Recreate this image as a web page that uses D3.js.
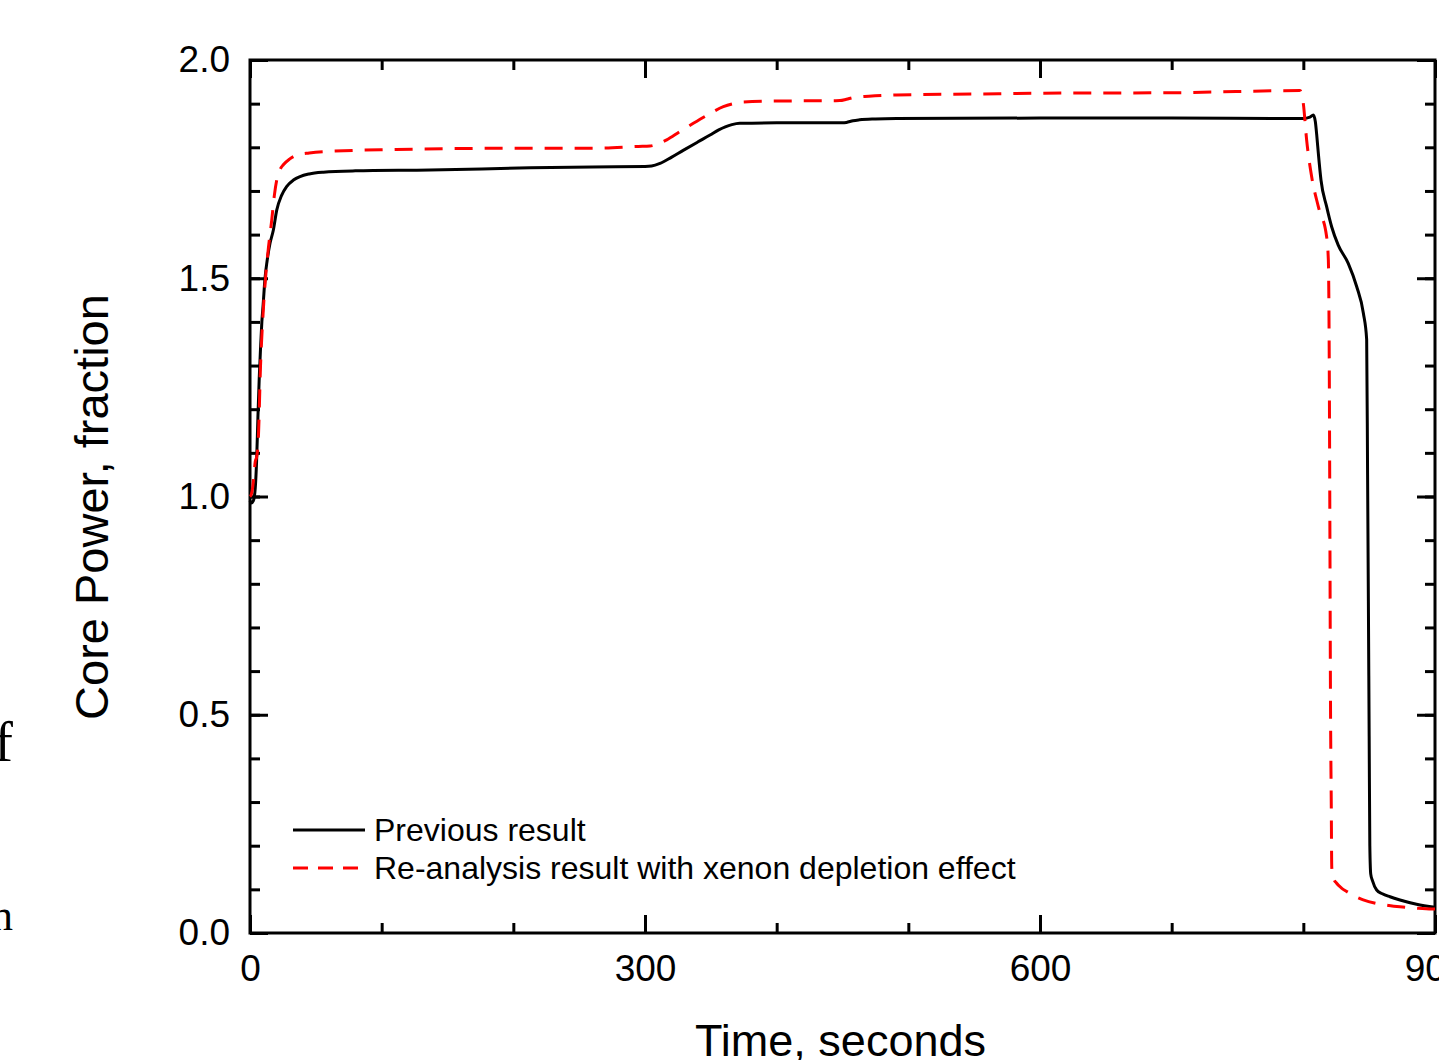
<!DOCTYPE html>
<html>
<head>
<meta charset="utf-8">
<script src="https://cdn.jsdelivr.net/npm/d3@7"></script>
<style>
    body { margin: 0; background: #ffffff; overflow: hidden; }
    svg { display: block; }
</style>
</head>
<body>
<div id="chart"></div>
<script>
//-------------------------------------------------------
// data
//-------------------------------------------------------
const xTicks = [0, 300, 600, 900];
const yTicks = [0.0, 0.5, 1.0, 1.5, 2.0];

// previous result (solid black)
const prevTime = [0, 1, 2.5, 4, 5, 6, 7, 8, 9, 10, 11.4, 13, 15.2, 17.7, 20.3, 24, 27.8, 33, 38, 45, 55.7, 80, 136.7, 212.7, 260, 300,
    305, 311.4, 320, 329, 340, 349.4, 356, 361, 366, 372, 400, 450, 453, 458, 463, 475, 491, 600, 700, 790, 800, 805, 807.6,
    809.1, 810.3, 811.4, 813.4, 817.7, 821.5, 826.5, 834.1, 840.5, 845.6, 848.1, 848.8, 849.4, 850.0, 850.5, 851.2, 852.5,
    855.7, 860, 865.8, 873.4, 886, 900];
const prevPower = [0.99, 0.985, 0.99, 1.02, 1.08, 1.18, 1.27, 1.34, 1.40, 1.44, 1.50, 1.54, 1.58, 1.61, 1.656, 1.69, 1.71, 1.725, 1.733, 1.739, 1.743, 1.746, 1.748, 1.753, 1.755, 1.756,
    1.757, 1.763, 1.777, 1.793, 1.812, 1.828, 1.84, 1.847, 1.852, 1.855, 1.856, 1.856, 1.857, 1.861, 1.863, 1.865, 1.866, 1.867, 1.867, 1.866, 1.866, 1.869, 1.874,
    1.859, 1.824, 1.786, 1.725, 1.664, 1.618, 1.576, 1.534, 1.481, 1.42, 1.36, 1.05, 0.76, 0.45, 0.2, 0.135, 0.12,
    0.0985, 0.09, 0.083, 0.0756, 0.066, 0.059];

// re-analysis with xenon depletion (red dashed)
const reTime = [0, 1, 2, 3, 4, 5, 6.3, 8, 10.1, 12.2, 14, 16.5, 18.5, 20.3, 23, 25.3, 30, 35.4, 45, 55.7, 111, 207.6, 265.8, 295,
    303.8, 310, 316.5, 326, 336.7, 348, 359.5, 367, 374.7, 400, 448, 453, 458.2, 470, 491, 550, 600, 700, 797.5, 800, 802.5,
    806.3, 811.4, 817.7, 819, 819.7, 820.2, 820.6, 821.2, 821.6, 823, 825.3, 829, 833, 840, 845.5, 855, 865, 873.4, 885, 897.5, 900];
const rePower = [1.0, 1.005, 1.02, 1.05, 1.08, 1.09, 1.13, 1.30, 1.427, 1.515, 1.57, 1.633, 1.69, 1.725, 1.75, 1.76, 1.773, 1.782, 1.787, 1.79, 1.795, 1.798, 1.798, 1.802,
    1.803, 1.808, 1.817, 1.835, 1.855, 1.875, 1.893, 1.9, 1.904, 1.906, 1.907, 1.91, 1.914, 1.917, 1.92, 1.922, 1.924, 1.925, 1.93, 1.9, 1.817,
    1.733, 1.664, 1.595, 1.542, 1.3, 0.9, 0.55, 0.3, 0.15, 0.125, 0.114, 0.103, 0.095, 0.083, 0.076, 0.068, 0.063, 0.06, 0.057, 0.055, 0.055];

const seriesNames = ["Previous result", "Re-analysis result with xenon depletion effect"];

//-------------------------------------------------------
// properties
//-------------------------------------------------------
let properties = {
    width: 1439,
    height: 1060,
    plot: { left: 250, right: 1435, top: 60, bottom: 933 },
    tick: { major: 18, minor: 10, width: 3 },
    font: "'Liberation Sans', Arial, Helvetica, sans-serif",
    color: { black: "#000000", red: "#ff0000", white: "#ffffff" }
};

const svg = d3.select("#chart")
    .append("svg")
    .attr("width", properties.width)
    .attr("height", properties.height);

const x = d3.scaleLinear()
    .domain([0, 900])
    .range([properties.plot.left, properties.plot.right]);

const y = d3.scaleLinear()
    .domain([0, 2])
    .range([properties.plot.bottom, properties.plot.top]);

const xMinor = d3.range(0, 901, 100);
const yMinor = d3.range(0, 21, 1).map(d => d / 10);

// axes: ticks pointing inward on all four sides
function drawAxis(axisFn, scale, values, size, translate, labels, pad) {
    const g = svg.append("g")
        .attr("transform", translate)
        .call(axisFn(scale)
            .tickValues(values)
            .tickSizeInner(-size)
            .tickSizeOuter(0)
            .tickPadding(pad || 0)
            .tickFormat(labels ? (d => d3.format(labels)(d)) : ""));
    g.select(".domain").remove();
    g.selectAll(".tick line")
        .attr("stroke", properties.color.black)
        .attr("stroke-width", properties.tick.width);
    g.selectAll(".tick text")
        .attr("font-family", properties.font)
        .attr("font-size", 37)
        .attr("fill", properties.color.black);
    return g;
}

const P = properties.plot;
// minor ticks
drawAxis(d3.axisBottom, x, xMinor, properties.tick.minor, `translate(0,${P.bottom})`, null);
drawAxis(d3.axisTop, x, xMinor, properties.tick.minor, `translate(0,${P.top})`, null);
drawAxis(d3.axisLeft, y, yMinor, properties.tick.minor, `translate(${P.left},0)`, null);
drawAxis(d3.axisRight, y, yMinor, properties.tick.minor, `translate(${P.right},0)`, null);
// major ticks
drawAxis(d3.axisBottom, x, xTicks, properties.tick.major, `translate(0,${P.bottom})`, "d", 22);
drawAxis(d3.axisTop, x, xTicks, properties.tick.major, `translate(0,${P.top})`, null);
drawAxis(d3.axisLeft, y, yTicks, properties.tick.major, `translate(${P.left},0)`, ".1f", 20);
drawAxis(d3.axisRight, y, yTicks, properties.tick.major, `translate(${P.right},0)`, null);

// frame
svg.append("rect")
    .attr("x", P.left)
    .attr("y", P.top)
    .attr("width", P.right - P.left)
    .attr("height", P.bottom - P.top)
    .attr("fill", "none")
    .attr("stroke", properties.color.black)
    .attr("stroke-width", 3);

//-------------------------------------------------------
// curves
//-------------------------------------------------------
const line = d3.line()
    .x(d => x(d[0]))
    .y(d => y(d[1]))
    .curve(d3.curveMonotoneX);

const prevData = prevTime.map((t, i) => [t, prevPower[i]]);
const reData = reTime.map((t, i) => [t, rePower[i]]);

svg.append("path")
    .datum(prevData)
    .attr("d", line)
    .attr("fill", "none")
    .attr("stroke", properties.color.black)
    .attr("stroke-width", 3)
    .attr("stroke-linejoin", "round");

svg.append("path")
    .datum(reData)
    .attr("d", line)
    .attr("fill", "none")
    .attr("stroke", properties.color.red)
    .attr("stroke-width", 3)
    .attr("stroke-dasharray", "18,12");

//-------------------------------------------------------
// legend
//-------------------------------------------------------
const legend = svg.append("g").attr("id", "legend");
const legendRows = [
    { name: seriesNames[0], color: properties.color.black, dash: null, y: 830 },
    { name: seriesNames[1], color: properties.color.red, dash: "15,10", y: 868 }
];
legendRows.forEach(r => {
    legend.append("line")
        .attr("x1", 293).attr("x2", 365)
        .attr("y1", r.y).attr("y2", r.y)
        .attr("stroke", r.color)
        .attr("stroke-width", 3)
        .attr("stroke-dasharray", r.dash);
    legend.append("text")
        .attr("x", 374)
        .attr("y", r.y + 11)
        .attr("font-family", properties.font)
        .attr("font-size", 32)
        .attr("fill", properties.color.black)
        .text(r.name);
});

//-------------------------------------------------------
// axis titles
//-------------------------------------------------------
svg.append("text")
    .attr("x", (P.left + P.right) / 2 - 2)
    .attr("y", 1056)
    .attr("text-anchor", "middle")
    .attr("font-family", properties.font)
    .attr("font-size", 45)
    .attr("fill", properties.color.black)
    .text("Time, seconds");

svg.append("text")
    .attr("transform", "translate(108,507) rotate(-90)")
    .attr("text-anchor", "middle")
    .attr("font-family", properties.font)
    .attr("font-size", 47)
    .attr("fill", properties.color.black)
    .text("Core Power, fraction");

// stray letters from the surrounding page
svg.append("text")
    .attr("x", 13).attr("y", 761)
    .attr("text-anchor", "end")
    .attr("font-family", "'Liberation Serif', 'Times New Roman', serif")
    .attr("font-size", 56)
    .attr("fill", properties.color.black)
    .text("f");
svg.append("text")
    .attr("x", 13).attr("y", 930)
    .attr("text-anchor", "end")
    .attr("font-family", "'Liberation Serif', 'Times New Roman', serif")
    .attr("font-size", 44)
    .attr("fill", properties.color.black)
    .text("n");
</script>
</body>
</html>
